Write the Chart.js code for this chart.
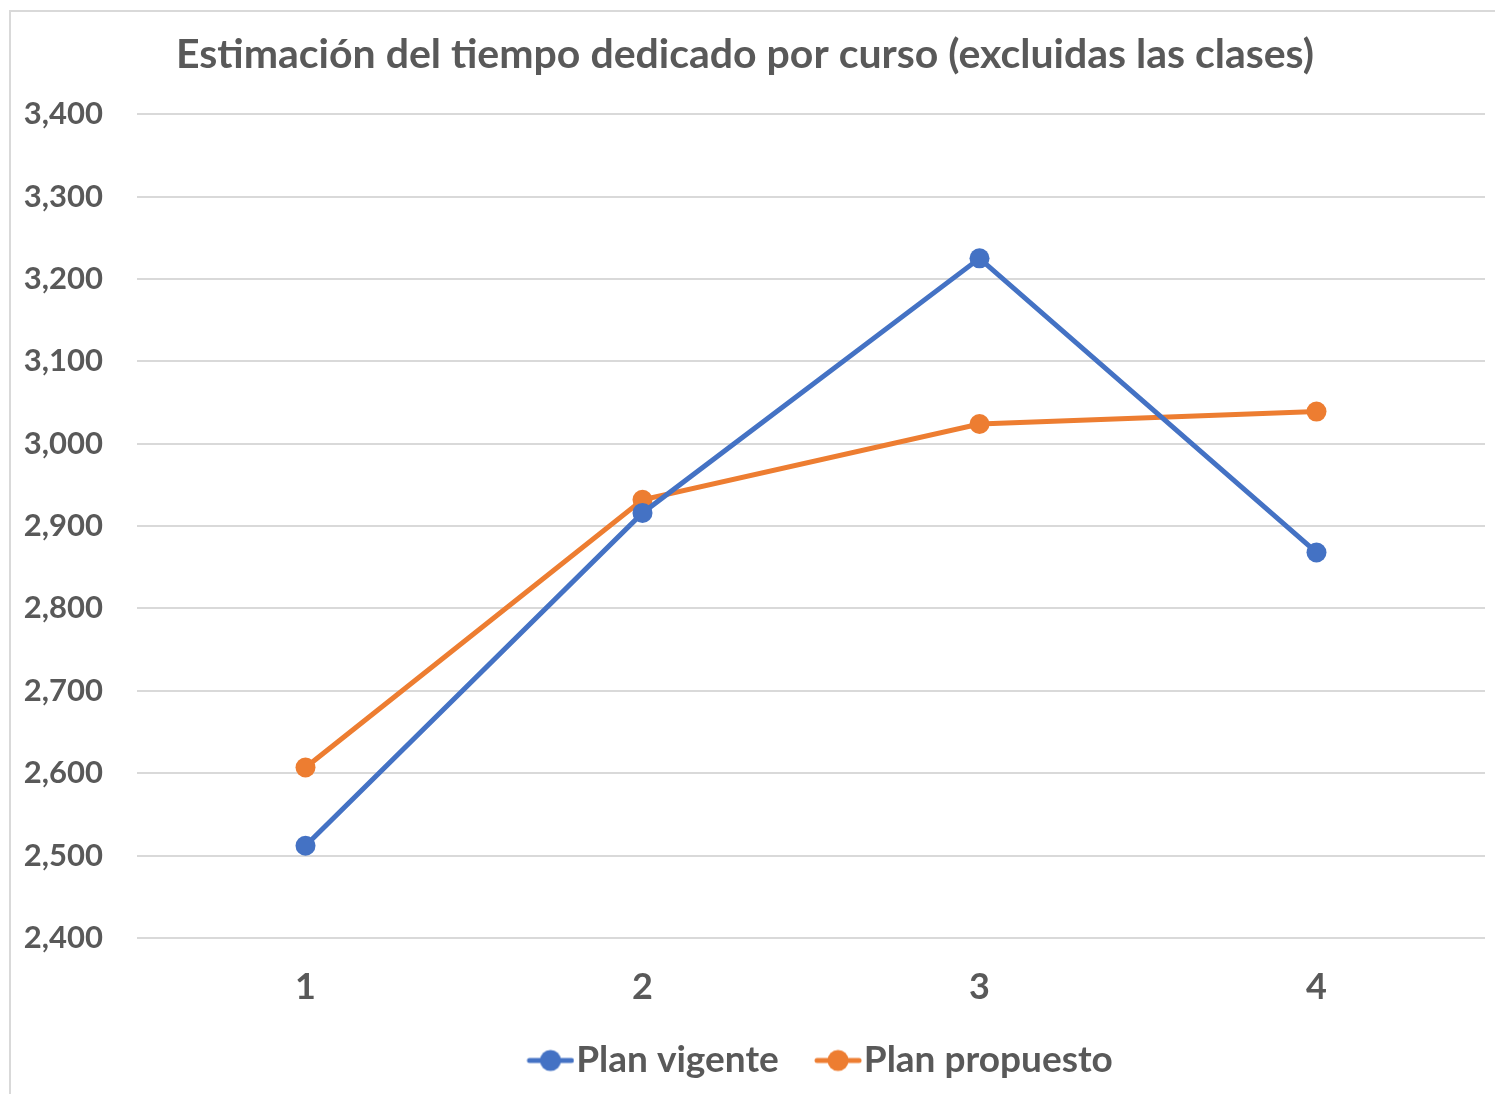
<!DOCTYPE html>
<html lang="es">
<head>
    <meta charset="UTF-8">
    <title>Estimación del tiempo dedicado por curso</title>
    <script src="https://cdn.jsdelivr.net/npm/chart.js"></script>
    <style>
        html, body { margin: 0; padding: 0; background: #fff; }
        .frame {
            position: absolute; left: 9px; top: 10px;
            width: 2000px; height: 2000px;
            border-left: 2px solid #d9d9d9; border-top: 2px solid #d9d9d9;
        }
        .chart-box { position: absolute; left: 0; top: 0; width: 1495px; height: 1094px; }
    </style>
</head>
<body>
    <div class="frame"></div>
    <div class="chart-box">
        <canvas id="tiempoChart"></canvas>
    </div>

    <script>
        const cursos = ['1', '2', '3', '4'];
        const planVigente = [2512, 2916, 3225, 2868];
        const planPropuesto = [2607, 2932, 3024, 3039];
        const yMin = 2400;
        const yMax = 3400;
        const yStep = 100;

        const azul = '#4472C4';
        const naranja = '#ED7D31';
        const gris = '#595959';
        const fuente = 'Lato, "Open Sans", sans-serif';

        // legend marker: short line with a dot (Excel style). Drawn on the right part
        // of a wider canvas so the text sits right after it and items keep a gap.
        function legendMarker(color) {
            const c = document.createElement('canvas');
            c.width = 82; c.height = 24;
            const g = c.getContext('2d');
            const x0 = 34;
            g.strokeStyle = color;
            g.lineWidth = 5;
            g.lineCap = 'round';
            g.beginPath(); g.moveTo(x0 + 3, 12); g.lineTo(x0 + 45, 12); g.stroke();
            g.fillStyle = color;
            g.beginPath(); g.arc(x0 + 24, 12, 10.5, 0, Math.PI * 2); g.fill();
            return c;
        }

        const ctx = document.getElementById('tiempoChart').getContext('2d');
        new Chart(ctx, {
            type: 'line',
            data: {
                labels: cursos,
                datasets: [
                    {
                        label: 'Plan vigente',
                        data: planVigente,
                        borderColor: azul,
                        backgroundColor: azul,
                        borderWidth: 5,
                        pointRadius: 10,
                        pointBorderWidth: 0,
                        pointHoverRadius: 10,
                        tension: 0
                    },
                    {
                        label: 'Plan propuesto',
                        data: planPropuesto,
                        borderColor: naranja,
                        backgroundColor: naranja,
                        borderWidth: 5,
                        pointRadius: 10,
                        pointBorderWidth: 0,
                        pointHoverRadius: 10,
                        tension: 0
                    }
                ]
            },
            options: {
                responsive: true,
                maintainAspectRatio: false,
                animation: false,
                layout: { padding: { left: 0, right: 5, top: 0, bottom: 5 } },
                plugins: {
                    title: {
                        display: true,
                        text: 'Estimación del tiempo dedicado por curso (excluidas las clases)',
                        color: gris,
                        font: { family: fuente, size: 41, weight: 'bold' },
                        padding: { top: 30, bottom: 35 }
                    },
                    legend: {
                        position: 'bottom',
                        fullSize: false,
                        labels: {
                            color: gris,
                            font: { family: fuente, size: 37, weight: 'bold' },
                            usePointStyle: true,
                            pointStyleWidth: 48.5,
                            padding: 18,
                            generateLabels(chart) {
                                return chart.data.datasets.map((ds, i) => ({
                                    text: ds.label,
                                    fillStyle: ds.borderColor,
                                    strokeStyle: ds.borderColor,
                                    fontColor: gris,
                                    pointStyle: legendMarker(ds.borderColor),
                                    hidden: !chart.isDatasetVisible(i),
                                    datasetIndex: i
                                }));
                            }
                        }
                    },
                    tooltip: { enabled: false }
                },
                scales: {
                    x: {
                        offset: true,
                        grid: { display: false, drawTicks: false },
                        border: { display: false },
                        ticks: {
                            color: gris,
                            font: { family: fuente, size: 36, weight: 'bold' },
                            padding: 28
                        },
                        afterFit(scale) { scale.height = 86; }
                    },
                    y: {
                        min: yMin,
                        max: yMax,
                        grid: { color: '#d9d9d9', lineWidth: 2, drawTicks: false },
                        border: { display: false },
                        ticks: {
                            stepSize: yStep,
                            color: gris,
                            font: { family: fuente, size: 31, weight: 'bold' },
                            padding: 34,
                            callback: v => v.toLocaleString('en-US')
                        },
                        afterFit(scale) { scale.width = 137; }
                    }
                }
            }
        });
    </script>
</body>
</html>
